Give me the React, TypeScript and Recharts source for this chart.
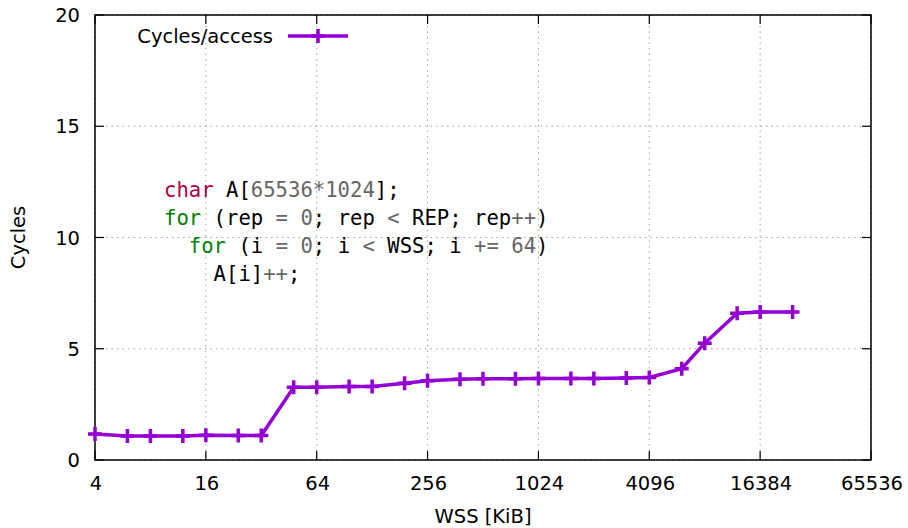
import React from 'react';
import { LineChart, Line, XAxis, YAxis, CartesianGrid, ReferenceArea, Label } from 'recharts';

// working set sizes (KiB) and measured cycles per access
const wss = [4, 6, 8, 12, 16, 24, 32, 48, 64, 96, 128, 192, 256, 384, 512, 768, 1024, 1536, 2048, 3072, 4096, 6144, 8192, 12288, 16384, 24576];
const cycles = [1.17, 1.08, 1.08, 1.08, 1.11, 1.1, 1.1, 3.27, 3.27, 3.3, 3.3, 3.45, 3.56, 3.63, 3.65, 3.65, 3.66, 3.66, 3.66, 3.69, 3.71, 4.1, 5.25, 6.6, 6.65, 6.65];

const xMajorTicks = [4, 16, 64, 256, 1024, 4096, 16384, 65536];
const xMinorTicks = [8, 32, 128, 512, 2048, 8192, 32768];
const yTicks = [0, 5, 10, 15, 20];

const SERIES_NAME = 'Cycles/access';
const COLOR = '#9400d3';

const data = wss.map((w, i) => ({ wss: w, cycles: cycles[i] }));

// layout
const W = 908;
const H = 528;
const LEFT = 95;
const RIGHT = 871;
const TOP = 15;
const BOTTOM = 460;
const FONT = '"DejaVu Sans", sans-serif';
const FS = 19.5;

const MonoColors = { type: '#b00040', kw: '#008000', num: '#666666', txt: '#000000' };

const codeLines: [string, keyof typeof MonoColors][][] = [
  [['char', 'type'], [' A[', 'txt'], ['65536', 'num'], ['*', 'num'], ['1024', 'num'], ['];', 'txt']],
  [['for', 'kw'], [' (rep ', 'txt'], ['=', 'num'], [' ', 'txt'], ['0', 'num'], ['; rep ', 'txt'], ['<', 'num'], [' REP; rep', 'txt'], ['++', 'num'], [')', 'txt']],
  [['  ', 'txt'], ['for', 'kw'], [' (i ', 'txt'], ['=', 'num'], [' ', 'txt'], ['0', 'num'], ['; i ', 'txt'], ['<', 'num'], [' WSS; i ', 'txt'], ['+=', 'num'], [' ', 'txt'], ['64', 'num'], [')', 'txt']],
  [['    A[i]', 'txt'], ['++', 'num'], [';', 'txt']],
];

const XTick = (props: any) => {
  const { x, payload } = props;
  const major = xMajorTicks.includes(payload.value);
  const len = major ? 9 : 4.5;
  return (
    <g>
      <line x1={x} x2={x} y1={BOTTOM} y2={BOTTOM - len} stroke="#000" strokeWidth={1.2} />
      <line x1={x} x2={x} y1={TOP} y2={TOP + len} stroke="#000" strokeWidth={1.2} />
      {major && (
        <text x={x + 1} y={490} textAnchor="middle" fontFamily={FONT} fontSize={FS} fill="#000">
          {payload.value}
        </text>
      )}
    </g>
  );
};

const YTick = (props: any) => {
  const { y, payload } = props;
  return (
    <g>
      <line x1={LEFT} x2={LEFT + 9} y1={y} y2={y} stroke="#000" strokeWidth={1.2} />
      <line x1={RIGHT} x2={RIGHT - 9} y1={y} y2={y} stroke="#000" strokeWidth={1.2} />
      <text x={80} y={y + 7} textAnchor="end" fontFamily={FONT} fontSize={FS} fill="#000">
        {payload.value}
      </text>
    </g>
  );
};

const PlusDot = (props: any) => {
  const { cx, cy, index } = props;
  return (
    <path
      key={`p-${index}`}
      d={`M${cx - 7},${cy}h14M${cx},${cy - 7}v14`}
      stroke={COLOR}
      strokeWidth={3.5}
      fill="none"
    />
  );
};

export default function App() {
  return (
    <div style={{ position: 'absolute', left: 0, top: 0, width: W, height: H, background: '#fff' }}>
      <LineChart width={W} height={H} data={data} margin={{ top: TOP, right: W - RIGHT, left: 0, bottom: 0 }}>
        <CartesianGrid stroke="#a0a0a0" strokeDasharray="1.5 4" />
        <XAxis
          dataKey="wss"
          type="number"
          scale="log"
          domain={[4, 65536]}
          ticks={xMajorTicks}
          interval={0}
          height={H - BOTTOM}
          axisLine={false}
          tickLine={false}
          tick={XTick}
        >
          <Label
            content={() => (
              <text x={(LEFT + RIGHT) / 2} y={523} textAnchor="middle" fontFamily={FONT} fontSize={FS} fill="#000">
                WSS [KiB]
              </text>
            )}
          />
        </XAxis>
        <XAxis
          xAxisId="minor"
          dataKey="wss"
          type="number"
          scale="log"
          domain={[4, 65536]}
          ticks={xMinorTicks}
          interval={0}
          height={0}
          axisLine={false}
          tickLine={false}
          tick={XTick}
        />
        <YAxis
          type="number"
          domain={[0, 20]}
          ticks={yTicks}
          interval={0}
          width={LEFT}
          axisLine={false}
          tickLine={false}
          tick={YTick}
        >
          <Label
            content={() => (
              <text
                x={25}
                y={(TOP + BOTTOM) / 2}
                transform={`rotate(-90 25 ${(TOP + BOTTOM) / 2})`}
                textAnchor="middle"
                fontFamily={FONT}
                fontSize={FS}
                fill="#000"
              >
                Cycles
              </text>
            )}
          />
        </YAxis>
        <ReferenceArea x1={4} x2={65536} y1={0} y2={20} fill="none" fillOpacity={0} stroke="#000" strokeWidth={1.5} />
        <Line
          type="linear"
          dataKey="cycles"
          name={SERIES_NAME}
          stroke={COLOR}
          strokeWidth={3.5}
          dot={PlusDot}
          activeDot={false}
          isAnimationActive={false}
        />
      </LineChart>
      <svg width={W} height={H} style={{ position: 'absolute', left: 0, top: 0, pointerEvents: 'none' }}>
        <text x={273} y={43} textAnchor="end" fontFamily={FONT} fontSize={FS} fill="#000">
          {SERIES_NAME}
        </text>
        <line x1={288} x2={348} y1={36} y2={36} stroke={COLOR} strokeWidth={3.5} />
        <path d="M311,36h14M318,29v14" stroke={COLOR} strokeWidth={3.5} />
        {codeLines.map((segs, li) => (
          <text
            key={li}
            x={164}
            y={197 + li * 28.1}
            fontFamily='"DejaVu Sans Mono", monospace'
            fontSize={20.6}
            style={{ whiteSpace: 'pre' }}
          >
            {segs.map(([t, c], si) => (
              <tspan key={si} fill={MonoColors[c]}>
                {t}
              </tspan>
            ))}
          </text>
        ))}
      </svg>
    </div>
  );
}
